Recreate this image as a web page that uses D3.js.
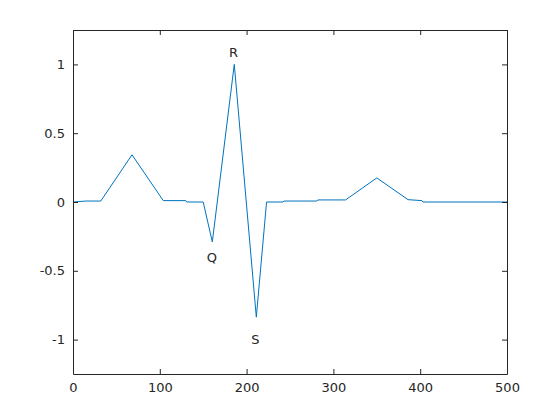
<!DOCTYPE html>
<html>
<head>
<meta charset="utf-8">
<script src="https://cdn.jsdelivr.net/npm/d3@7"></script>
<style>
  body { margin: 0; background: #fff; }
  text { font-family: "DejaVu Sans", sans-serif; fill: #262626; }
</style>
</head>
<body>
<div class="container"></div>
<script>
// ECG-like waveform
const xs = [0, 15, 32, 68, 104, 130, 131, 150, 160.5, 185.8, 211.2, 223, 242, 243, 281, 282, 314, 350, 386, 402, 403, 500];
const ys = [0, 0.007, 0.007, 0.343, 0.01, 0.01, 0, 0, -0.29, 1.0, -0.837, 0, 0, 0.007, 0.007, 0.015, 0.015, 0.175, 0.017, 0.01, 0, 0];

const labels = ['Q', 'R', 'S'];
const labelX = [160, 185, 210];
const labelY = [-0.4, 1.09, -1.0];

const xTicks = [0, 100, 200, 300, 400, 500];
const yTicks = [-1, -0.5, 0, 0.5, 1];
const yTickLabels = ['-1', '-0.5', '0', '0.5', '1'];

const width = 560, height = 420;
const margin = {left: 73, right: 53, top: 30, bottom: 46};

const svg = d3.select('.container')
    .append('svg')
    .attr('width', width)
    .attr('height', height);

const x = d3.scaleLinear().domain([0, 500]).range([margin.left, width - margin.right]);
const y = d3.scaleLinear().domain([-1.25, 1.25]).range([height - margin.bottom, margin.top]);

const points = xs.map((d, i) => [d, ys[i]]);

// plot line
svg.append('path')
    .datum(points)
    .attr('fill', 'none')
    .attr('stroke', '#0072BD')
    .attr('stroke-width', 1)
    .attr('d', d3.line().x(d => x(d[0])).y(d => y(d[1])));

// peak labels
svg.append('g')
    .selectAll('text')
    .data(labels)
    .join('text')
    .attr('x', (d, i) => x(labelX[i]))
    .attr('y', (d, i) => y(labelY[i]))
    .attr('text-anchor', 'middle')
    .attr('dominant-baseline', 'central')
    .attr('font-size', 13)
    .text(d => d);

// axes, MATLAB style: inward ticks, box on
const tick = 5;
const gBottom = svg.append('g')
    .attr('transform', `translate(0,${y(-1.25)})`)
    .call(d3.axisBottom(x).tickValues(xTicks).tickSizeInner(-tick).tickSizeOuter(0).tickPadding(9));
const gTop = svg.append('g')
    .attr('transform', `translate(0,${y(1.25)})`)
    .call(d3.axisTop(x).tickValues(xTicks).tickSizeInner(-tick).tickSizeOuter(0).tickFormat(''));
const gLeft = svg.append('g')
    .attr('transform', `translate(${x(0)},0)`)
    .call(d3.axisLeft(y).tickValues(yTicks).tickSizeInner(-tick).tickSizeOuter(0).tickPadding(8)
        .tickFormat((d, i) => yTickLabels[i]));
const gRight = svg.append('g')
    .attr('transform', `translate(${x(500)},0)`)
    .call(d3.axisRight(y).tickValues(yTicks).tickSizeInner(-tick).tickSizeOuter(0).tickFormat(''));

[gBottom, gTop, gLeft, gRight].forEach(g => {
    g.selectAll('.domain').attr('stroke', '#262626');
    g.selectAll('line').attr('stroke', '#262626');
    g.selectAll('text').attr('font-size', 13).attr('font-family', 'DejaVu Sans, sans-serif').attr('fill', '#262626');
});
</script>
</body>
</html>
